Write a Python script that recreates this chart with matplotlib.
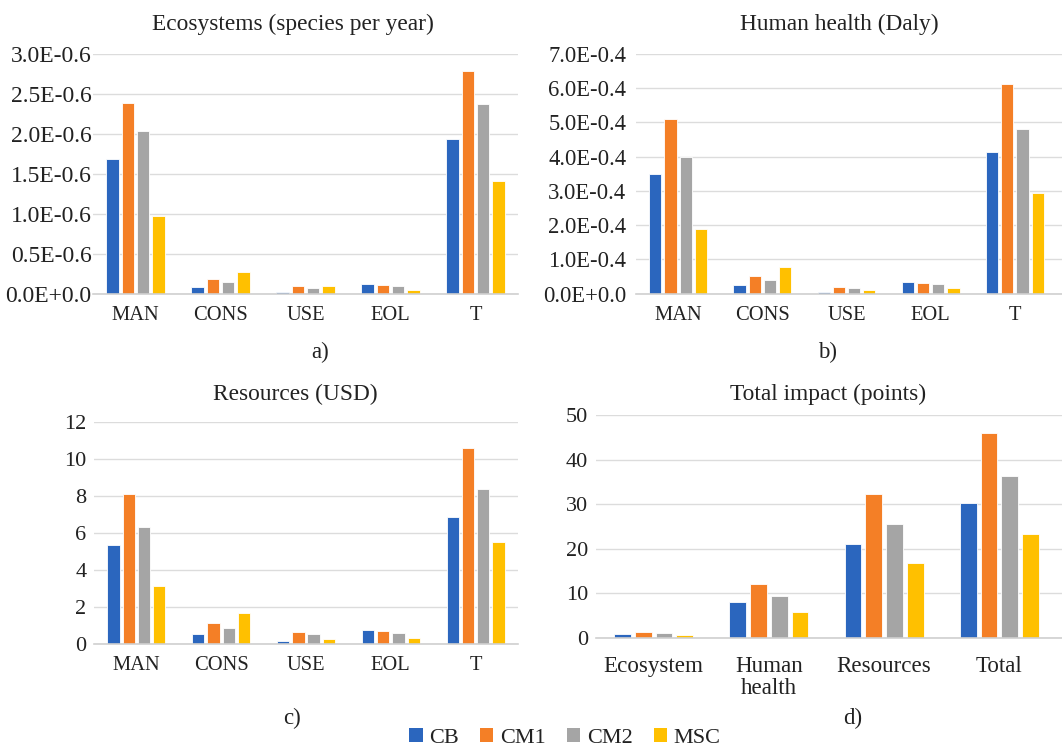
import matplotlib
matplotlib.use("Agg")
import matplotlib.pyplot as plt
import numpy as np
from matplotlib.patches import Patch

plt.rcParams['font.family'] = ['Liberation Serif', 'DejaVu Serif']

series = ["CB", "CM1", "CM2", "MSC"]
colors = ["#2B66BE", "#F47F26", "#A5A5A5", "#FFC000"]

stages = ["MAN", "CONS", "USE", "EOL", "T"]

# Ecosystems (species per year), in units of the tick labels
eco_CB = [1.68, 0.08, 0.02, 0.125, 1.93]
eco_CM1 = [2.39, 0.18, 0.09, 0.11, 2.79]
eco_CM2 = [2.04, 0.14, 0.07, 0.10, 2.37]
eco_MSC = [0.97, 0.27, 0.09, 0.05, 1.41]
eco_ticks = [0, 0.5, 1.0, 1.5, 2.0, 2.5, 3.0]
eco_ticklabels = ["0.0E+0.0", "0.5E-0.6", "1.0E-0.6", "1.5E-0.6",
                  "2.0E-0.6", "2.5E-0.6", "3.0E-0.6"]

# Human health (Daly)
hh_CB = [3.49, 0.24, 0.05, 0.34, 4.14]
hh_CM1 = [5.10, 0.52, 0.19, 0.30, 6.12]
hh_CM2 = [3.98, 0.39, 0.16, 0.27, 4.82]
hh_MSC = [1.88, 0.78, 0.11, 0.16, 2.93]
hh_ticks = [0, 1, 2, 3, 4, 5, 6, 7]
hh_ticklabels = ["0.0E+0.0", "1.0E-0.4", "2.0E-0.4", "3.0E-0.4",
                 "4.0E-0.4", "5.0E-0.4", "6.0E-0.4", "7.0E-0.4"]

# Resources (USD)
res_CB = [5.36, 0.52, 0.18, 0.77, 6.89]
res_CM1 = [8.09, 1.12, 0.65, 0.68, 10.58]
res_CM2 = [6.31, 0.88, 0.52, 0.61, 8.38]
res_MSC = [3.15, 1.69, 0.29, 0.34, 5.50]
res_ticks = [0, 2, 4, 6, 8, 10, 12]
res_ticklabels = ["0", "2", "4", "6", "8", "10", "12"]

# Total impact (points)
tot_cats = ["Ecosystem", "Human\nhealth", "Resources", "Total"]
tot_CB = [0.9, 8.15, 21.0, 30.2]
tot_CM1 = [1.27, 12.1, 32.3, 45.9]
tot_CM2 = [1.05, 9.49, 25.6, 36.3]
tot_MSC = [0.6, 5.75, 16.8, 23.3]
tot_ticks = [0, 10, 20, 30, 40, 50]
tot_ticklabels = ["0", "10", "20", "30", "40", "50"]

W, H = 1062, 746
fig = plt.figure(figsize=(W / 100, H / 100), dpi=100)


def px_axes(l, r, t, b):
    return fig.add_axes([l / W, 1 - b / H, (r - l) / W, (b - t) / H])


TXT = "#222222"


def draw(ax, cats, data, ticks, ticklabels, yfs, xfs, ypad, xpad, xextra=0.0):
    n = len(cats)
    x = np.arange(n)
    step = 0.18
    width = 0.145
    for i, (vals, c) in enumerate(zip(data, colors)):
        ax.bar(x + (i - 1.5) * step, vals, width, color=c,
               edgecolor="white", linewidth=0.6, zorder=3)
    ax.set_xlim(-0.5, n - 0.5 + xextra)
    ax.set_ylim(ticks[0], ticks[-1])
    ax.set_yticks(ticks)
    ax.set_yticklabels(ticklabels, fontsize=yfs, color=TXT)
    ax.set_xticks(x)
    ax.set_xticklabels(cats, fontsize=xfs, color=TXT, linespacing=1.08)
    ax.tick_params(axis="both", length=0)
    ax.tick_params(axis="y", pad=ypad)
    ax.tick_params(axis="x", pad=xpad)
    for s in ["top", "right", "left"]:
        ax.spines[s].set_visible(False)
    ax.spines["bottom"].set_color("#D0D0D0")
    ax.spines["bottom"].set_linewidth(1.2)
    ax.spines["bottom"].set_zorder(4)
    ax.grid(axis="y", color="#DCDCDC", linewidth=1.0, zorder=0)
    ax.set_axisbelow(True)
    ax.set_facecolor("none")


ax_a = px_axes(93, 518, 54, 293.5)
draw(ax_a, stages, [eco_CB, eco_CM1, eco_CM2, eco_MSC], eco_ticks, eco_ticklabels,
     yfs=17, xfs=14.8, ypad=1.0, xpad=9)

ax_b = px_axes(636, 1062, 54, 293.5)
draw(ax_b, stages, [hh_CB, hh_CM1, hh_CM2, hh_MSC], hh_ticks, hh_ticklabels,
     yfs=16.3, xfs=14.8, ypad=7, xpad=9, xextra=5 / 84.2)

ax_c = px_axes(94, 518, 422, 644)
draw(ax_c, stages, [res_CB, res_CM1, res_CM2, res_MSC], res_ticks, res_ticklabels,
     yfs=16, xfs=14.8, ypad=5.5, xpad=9)

ax_d = px_axes(596, 1062, 415, 638)
draw(ax_d, tot_cats, [tot_CB, tot_CM1, tot_CM2, tot_MSC], tot_ticks, tot_ticklabels,
     yfs=16, xfs=16.6, ypad=5.5, xpad=13, xextra=5 / 115.25)

titles = [("Ecosystems (species per year)", 293, 24),
          ("Human health (Daly)", 839, 24),
          ("Resources (USD)", 295, 394),
          ("Total impact (points)", 828, 394)]
for t, x, y in titles:
    fig.text(x / W, 1 - y / H, t, fontsize=16.8, ha="center", va="center", color=TXT)

letters = [("a)", 320, 352), ("b)", 828, 352), ("c)", 292, 718), ("d)", 853, 718)]
for t, x, y in letters:
    fig.text(x / W, 1 - y / H, t, fontsize=16.5, ha="center", va="center", color=TXT)

handles = [Patch(facecolor=c, edgecolor="none", label=s) for s, c in zip(series, colors)]
fig.legend(handles=handles, loc="center", bbox_to_anchor=(565 / W, 1 - 738 / H),
           ncol=4, frameon=False, fontsize=16, handlelength=0.6, handleheight=0.6,
           handletextpad=0.3, columnspacing=0.95, borderpad=0, labelcolor=TXT)

fig.savefig("out.png", dpi=100, facecolor="white")
